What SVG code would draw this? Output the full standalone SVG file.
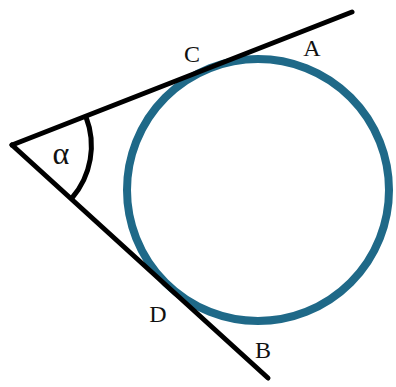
<svg xmlns="http://www.w3.org/2000/svg" width="396" height="387" viewBox="0 0 396 387">
<style>
.ln{stroke:#000;stroke-width:5;fill:none;stroke-linecap:round}
.lbl{font-family:"Liberation Serif",serif;font-size:24px;fill:#111;text-anchor:middle}
</style>
<rect width="396" height="387" fill="#fff"/>
<g id="circle"><circle cx="258" cy="190" r="131" fill="none" stroke="#1f6988" stroke-width="8"/></g>
<g id="connectors">
<line class="ln" x1="12" y1="145" x2="352" y2="12"/>
<line class="ln" x1="12" y1="145" x2="268" y2="378"/>
<path class="ln" stroke-width="4" d="M86,117 A80,80 0 0 1 72,198"/>
</g>
<g id="alpha"><text class="lbl" x="61" y="164" style="font-size:32px">α</text></g>
<g id="C"><text class="lbl" x="192" y="62">C</text></g>
<g id="A"><text class="lbl" x="312" y="56">A</text></g>
<g id="D"><text class="lbl" x="158" y="322">D</text></g>
<g id="B"><text class="lbl" x="263" y="358">B</text></g>
</svg>
